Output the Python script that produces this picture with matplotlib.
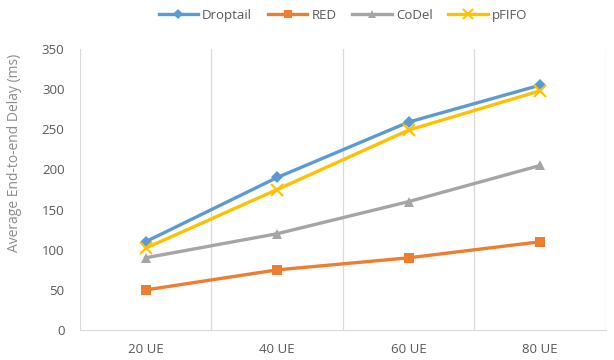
import matplotlib
matplotlib.use("Agg")
import matplotlib.pyplot as plt
import numpy as np

categories = ["20 UE", "40 UE", "60 UE", "80 UE"]
droptail = [110, 190, 259, 305]
red = [50, 75, 90, 110]
codel = [90, 120, 160, 205]
pfifo = [102, 175, 249, 298]
yticks = [0, 50, 100, 150, 200, 250, 300, 350]

plt.rcParams['font.family'] = ['Open Sans', 'DejaVu Sans']

fig = plt.figure(figsize=(6.14, 3.6), dpi=100)
ax = fig.add_axes([0.130, 0.083, 0.857, 0.781])

x = np.arange(len(categories))
series = [
    ("Droptail", droptail, "#5B9BD5", "D", 6),
    ("RED", red, "#ED7D31", "s", 7),
    ("CoDel", codel, "#A5A5A5", "^", 7),
    ("pFIFO", pfifo, "#FFC000", "x", 8),
]
for name, vals, col, mk, ms in series:
    kw = dict(markeredgewidth=1.5) if mk == "x" else dict(markeredgewidth=0)
    ax.plot(x, vals, color=col, lw=2.4, marker=mk, markersize=ms,
            markerfacecolor=col, markeredgecolor=col, label=name, **kw)

ax.set_xlim(-0.5, len(categories) - 0.5)
ax.set_ylim(0, 350)
ax.set_yticks(yticks)
ax.set_xticks(x)
ax.set_xticklabels(categories)
for b in np.arange(-0.5, len(categories), 1.0):
    ax.axvline(b, color="#D9D9D9", lw=0.9, zorder=0)

for s in ["top", "right", "left"]:
    ax.spines[s].set_visible(False)
ax.spines["bottom"].set_color("#D9D9D9")
ax.tick_params(axis="both", length=0, colors="#595959", labelsize=9.5)
ax.tick_params(axis="y", pad=11)
ax.tick_params(axis="x", pad=9)
ax.set_ylabel("Average End-to-end Delay (ms)", color="#8C8C8C", fontsize=10)
ax.yaxis.set_label_coords(-0.11, 0.63)

ax.legend(loc="upper center", bbox_to_anchor=(0.5, 1.185), ncol=4, frameon=False,
          fontsize=9.5, handlelength=3, columnspacing=1.2, handletextpad=0.3,
          labelcolor="#595959", markerscale=0.85)

fig.savefig("out.png", dpi=100)
